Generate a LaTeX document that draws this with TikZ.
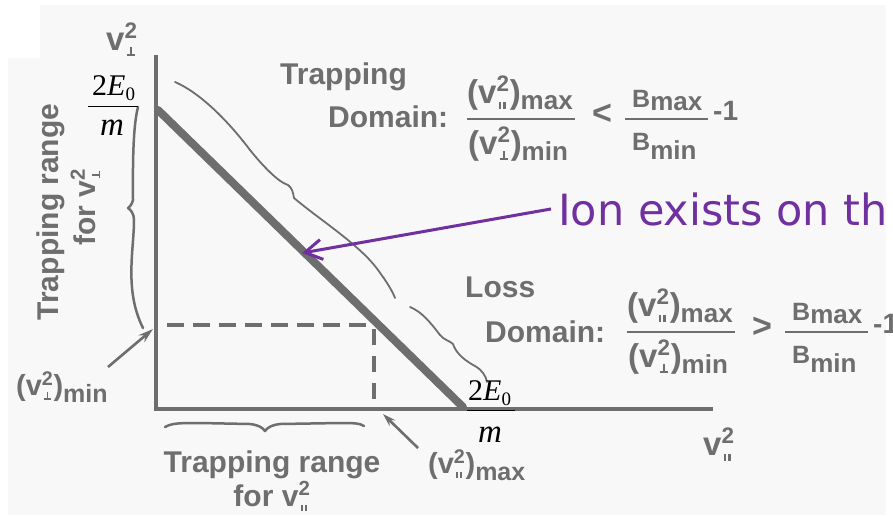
\documentclass[tikz,border=0pt]{standalone}
\usepackage{fontspec}
\usepackage{graphicx}
\setmainfont{Liberation Sans}
\newfontfamily\tms{Liberation Serif}
\newfontfamily\vfont{DejaVu Sans}
\usetikzlibrary{arrows.meta}
\definecolor{ink}{RGB}{110,110,110}
\definecolor{bgray}{RGB}{248,248,248}
\definecolor{ionpurple}{RGB}{112,48,160}
\newcommand\fsz[1]{\fontsize{#1}{#1}\selectfont}
\newcommand\parsym{\rule{0.07em}{0.22em}\hspace{0.07em}\rule{0.07em}{0.22em}}
\newcommand\perpsym{\rlap{\rule{0.24em}{0.06em}}\hspace{0.09em}\rule{0.06em}{0.27em}}
\newcommand\stk[1]{\makebox[0.4em][l]{\rlap{\raisebox{0.34em}{\scalebox{0.68}{2}}}\hspace{0.07em}\raisebox{-0.18em}{#1}}}
\newcommand\vpa{v\stk{\parsym}}
\newcommand\vpe{v\stk{\perpsym}}
\newcommand\domainformula[3]{%
  \begin{scope}[shift={#3}]
    \node[lbl] (#1num) at (467,103) {\fsz{33}(\vpa)\fsz{26}\raisebox{-6pt}{max}};
    \node[lbl] (#1den) at (468,154) {\fsz{33}(\vpe)\fsz{26}\raisebox{-6pt}{min}};
    \draw[ink, line width=2] (467,119) -- (575,119);
    \node[lbl, anchor=base] (#1rel) at (602,124) {\fsz{34}#2};
    \node[lbl] (#1bnum) at (632,107) {\fsz{25}B\fsz{26}\raisebox{-3pt}{max}};
    \node[lbl] (#1bden) at (632,150) {\fsz{25}B\fsz{26}\raisebox{-9pt}{min}};
    \draw[ink, line width=2] (625,119) -- (708,119);
    \node[lbl] (#1m1) at (713,120) {\fsz{28}-1};
  \end{scope}}
\begin{document}
\begin{tikzpicture}[x=1pt,y=-1pt,
  lbl/.style={inner sep=0pt, anchor=base west, text=ink, font=\bfseries},
  frac/.style={inner sep=0pt, text=black},
  hand/.style={draw=ink, line width=1.8pt, line cap=round, line join=round},
  ptr/.style={draw=ink, line width=2.6pt, -{Stealth[length=15pt,width=9pt]}}]
\clip (0,0) rectangle (893,515);
\fill[white] (0,0) rectangle (893,515);
\fill[bgray] (40,5) rectangle (886,515);
\fill[bgray] (8,58) rectangle (40,515);

% axes
\draw[ink, line width=3.2pt, line join=miter] (156,55) -- (156,409) -- (713,409);
% diagonal
\draw[ink, line width=8pt, line cap=round] (158,110) -- (463,407);
% dashed
\draw[ink, line width=3.5pt, dash pattern=on 17pt off 9pt] (167,325) -- (375,325);
\draw[ink, line width=3.5pt, dash pattern=on 16pt off 11pt] (374,329) -- (374,407);

% hand-drawn braces
\draw[hand] (175,82) .. controls (205,95) and (235,130) .. (250,150)
  .. controls (262,165) and (278,182) .. (288,185)
  .. controls (292,188) and (293,192) .. (294,198)
  .. controls (320,220) and (360,245) .. (378,270)
  .. controls (386,281) and (392,290) .. (395,298);
\draw[hand] (410,307) .. controls (422,312) and (430,322) .. (440,335)
  .. controls (444,340) and (450,341) .. (453,344)
  .. controls (455,350) and (460,358) .. (475,366)
  .. controls (482,370) and (486,376) .. (487,382);
\draw[hand, line width=2.5pt] (138,107) .. controls (132,130) and (133,180) .. (133,200)
  .. controls (132,205) and (129,207) .. (128,208)
  .. controls (131,210) and (134,214) .. (134,220)
  .. controls (134,250) and (124,290) .. (143,328);
\draw[hand, line width=2.5pt] (165,427) .. controls (172,423) and (180,423) .. (200,423)
  -- (250,424) .. controls (258,425) and (262,427) .. (265,431)
  .. controls (268,427) and (272,425) .. (280,424)
  -- (340,423) .. controls (352,423) and (360,423) .. (364,426);

% 2E0/m fractions
\node[frac, anchor=base west] (e1) at (92,95) {\tms\fsz{30}2\textit{E}\raisebox{-5pt}{\fsz{19}0}};
\draw[black, line width=1pt] (88,106) -- (138,106);
\node[frac, anchor=base] (m1) at (112,135) {\tms\fsz{33}\textit{m}};
\node[frac, anchor=base west] (e2) at (468,400) {\tms\fsz{30}2\textit{E}\raisebox{-5pt}{\fsz{19}0}};
\draw[black, line width=1pt] (467,410) -- (515,410);
\node[frac, anchor=base] (m2) at (490,442) {\tms\fsz{33}\textit{m}};

% axis labels
\node[lbl] (vperp) at (106,50) {\fsz{33}\vpe};
\node[lbl] (vpar) at (703,455) {\fsz{33}\vpa};
\node[lbl] (vmin) at (16,395) {\fsz{29}(\vpe)\fsz{25}\raisebox{-7pt}{min}};
\node[lbl] (vmax) at (428,473) {\fsz{29}(\vpa)\fsz{25}\raisebox{-7pt}{max}};
\coordinate (vminpt) at (153,329);
\coordinate (vminfrom) at (108,367);
\coordinate (vmaxpt) at (383,414);
\coordinate (vmaxfrom) at (418,448);
\draw[ptr] (vminfrom) -- (vminpt);
\draw[ptr, -{Stealth[length=13pt,width=8pt]}] (vmaxfrom) -- (vmaxpt);

% range labels
\node[lbl, anchor=base, rotate=90] (trperp) at (58,212) {\fsz{30}Trapping range};
\node[lbl, anchor=base, rotate=90] (forperp) at (95,207) {\fsz{30}for \vpe};
\node[lbl, anchor=base] (trpar) at (272,472) {\fsz{30}Trapping range};
\node[lbl, anchor=base] (forpar) at (272,506) {\fsz{30}for \vpa};

% domains
\node[lbl] (trap) at (280,84) {\fsz{30}Trapping};
\node[lbl] (trapdom) at (328,127) {\fsz{30}Domain:};
\domainformula{t}{<}{(0,0)}
\node[lbl] (loss) at (465,297) {\fsz{30}Loss};
\node[lbl] (lossdom) at (485,342) {\fsz{30}Domain:};
\domainformula{l}{>}{(160,213)}

% purple annotation
\node[inner sep=0pt, anchor=base west, text=ionpurple] (ion) at (558,225) {\vfont\fsz{43}Ion exists on th};
\coordinate (ionpt) at (302,253);
\draw[ionpurple, line width=3pt, -{Straight Barb[length=17pt,width=20pt]}] ([xshift=-7pt]ion.west) -- (ionpt);
\end{tikzpicture}
\end{document}
